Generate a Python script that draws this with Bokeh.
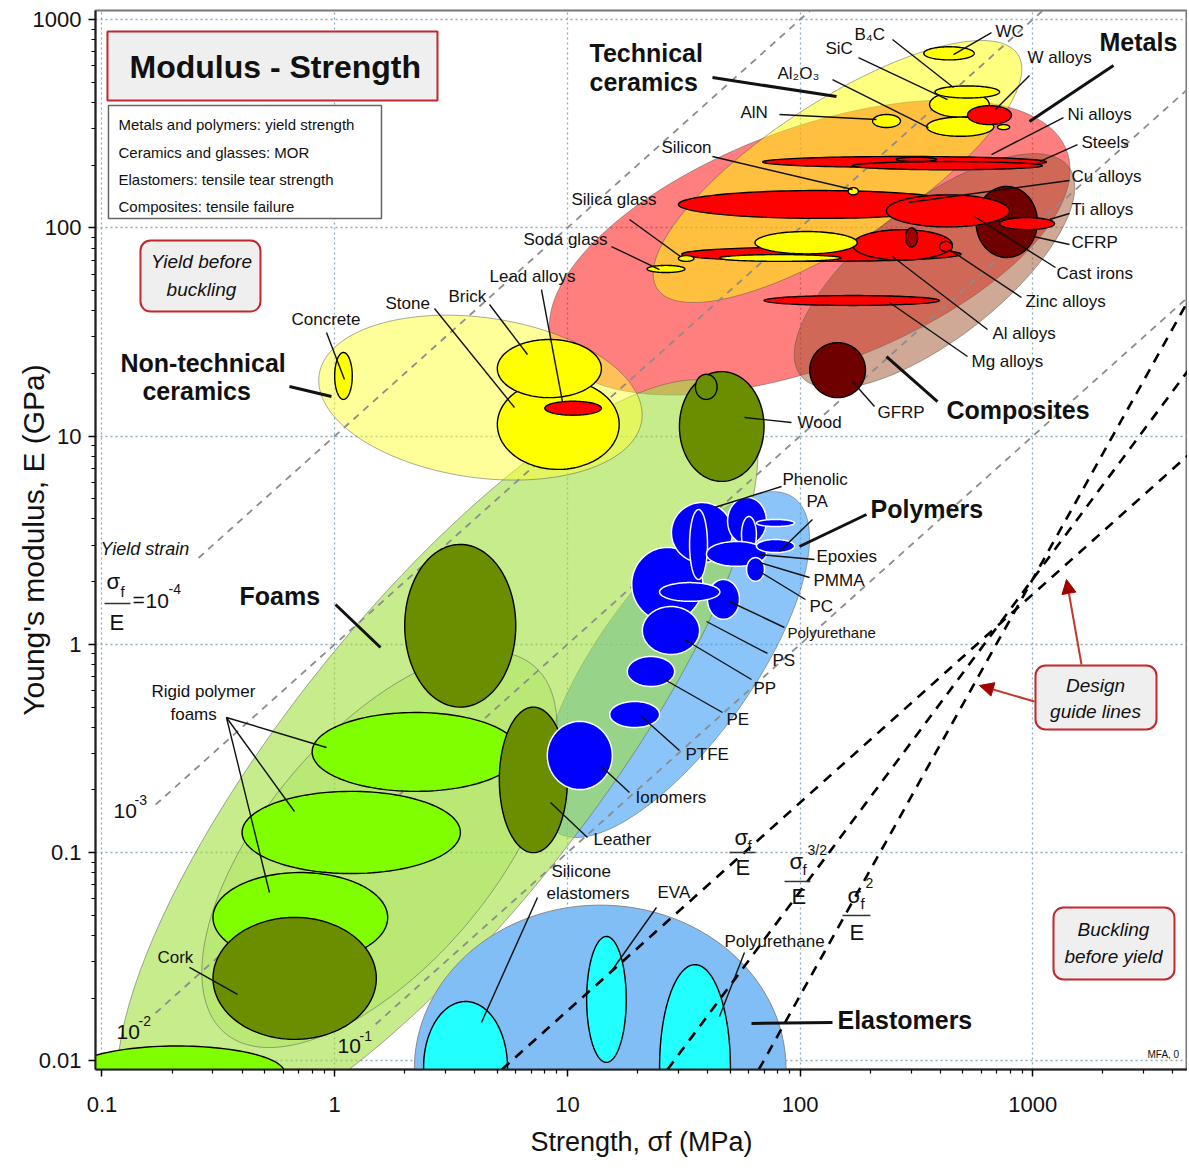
import numpy as np
from bokeh.plotting import figure
from bokeh.models import Range1d, FixedTicker, CustomJSTickFormatter, Arrow, NormalHead
from bokeh.embed import file_html
from bokeh.resources import INLINE
from bokeh.core.properties import value

FONT = "Liberation Sans"

# ---------------- axes ----------------
X_START, X_END = 0.0938, 4622.0      # strength, MPa
Y_START, Y_END = 0.0091, 1105.0      # modulus, GPa
X_MAJOR = [0.1, 1, 10, 100, 1000]
Y_MAJOR = [0.01, 0.1, 1, 10, 100, 1000]

# ---------------- envelopes ----------------
# (name, strength centre MPa, modulus centre GPa, semi-major (decades), semi-minor (decades), tilt deg)
ENVELOPES = [
    ("Metals", 110, 80.4, 1.18, 0.51, 20.7),
    ("Technical ceramics", 144.8, 186.3, 0.924, 0.301, 33),
    ("Composites", 378, 62.0, 0.73, 0.292, 38),
    ("Polymers", 28.9, 0.80, 0.881, 0.335, 54.5),
    ("Foams", 2.766, 0.2622, 2.054, 0.653, 51.5),
    ("Rigid polymer foams", 1.557, 0.1036, 1.031, 0.494, 50),
    ("Non-technical ceramics", 4.23, 15.3, 0.70, 0.344, -8),
]
ENV_FILL = ["#ff0000", "#ffff00", "#a0522d", "#3d9cf5", "#a0e040", "#9ce040", "#ffff33"]
ENV_ALPHA = [0.5, 0.5, 0.5, 0.6, 0.6, 0.3, 0.5]
ELASTOMER_ENV = (2.2, 87, 0.0015, 0.056)

# ---------------- material bubbles: (name, s_min, s_max, E_min, E_max) ----------------
COMPOSITES = [("CFRP", 570, 1047, 72, 158), ("GFRP", 110, 191, 15.3, 28.1)]
METALS = [
    ("Ni alloys", 69, 1145, 195, 220),
    ("Steels", 168, 1100, 190, 208),
    ("Ni-steel", 259, 386, 208, 218),
    ("Cu alloys", 30, 492, 111, 151),
    ("Cast irons", 235, 794, 101, 144),
    ("Ti alloys", 720, 1240, 98, 112),
    ("Al alloys", 31, 492, 69, 81),
    ("Zinc alloys", 168, 451, 70, 98),
    ("Zn die", 397, 451, 77, 86),
    ("Mg alloys", 70, 397, 42.4, 47.3),
]
METALS_DARK = [("Mo", 284, 320, 81, 100)]
TECH_CERAMICS = [
    ("WC", 340, 560, 640, 740),
    ("SiC", 360, 650, 340, 450),
    ("B4C", 380, 720, 420, 480),
    ("Al2O3", 350, 680, 275, 340),
    ("AlN", 205, 270, 303, 350),
    ("Silicon", 161, 178, 144, 156),
    ("Si3N4", 64, 176, 75, 96),
    ("Glass ceramic", 45, 150, 69, 74.4),
    ("Silica glass", 30, 35, 69, 73.6),
    ("Soda glass", 22, 32, 61, 66),
]
W_ALLOYS = [("W alloys", 524, 810, 313, 386)]
TECH_SMALL = [("Boron", 705, 795, 296, 313)]
NONTECH = [("Concrete", 1.0, 1.19, 15, 25.2), ("Stone", 5, 16.7, 6.92, 18.7), ("Brick", 5, 14, 15.3, 29.1)]
LEAD = [("Lead alloys", 8, 14, 12.6, 14.7)]
RIGID_FOAMS = [
    ("Rigid foam A", 0.8, 6.2, 0.197, 0.471),
    ("Rigid foam B", 0.40, 3.47, 0.0794, 0.197),
    ("Rigid foam C", 0.30, 1.69, 0.0297, 0.0803),
    ("Rigid foam D", 0.0725, 0.61, 0.0065, 0.0118),
]
NATURAL = [
    ("Cork", 0.30, 1.51, 0.0127, 0.0489),
    ("Leather", 5.1, 10, 0.1, 0.5),
    ("Flexible foam", 2.0, 6.0, 0.5, 3.02),
    ("Wood", 30.3, 70, 6.06, 20.4),
    ("Wood (T)", 35.5, 44, 15, 19.8),
]
POLYMERS = [
    ("PS", 18.9, 38.2, 1.29, 2.92),
    ("Ionomers", 8.2, 15.6, 0.201, 0.427),
    ("PTFE", 15.2, 24.9, 0.399, 0.532),
    ("PE", 18.1, 28.9, 0.628, 0.875),
    ("PP", 21, 37, 0.895, 1.52),
    ("Phenolic", 28, 51.2, 2.47, 4.80),
    ("PA", 48.8, 71.7, 3.02, 5.08),
    ("Polyurethane", 40, 54.9, 1.32, 2.05),
    ("ABS", 24.9, 45.2, 1.61, 1.98),
    ("PET", 33.5, 40, 2.05, 4.44),
    ("PEEK", 56, 64.9, 2.76, 4.11),
    ("Epoxies", 39.6, 71.7, 2.37, 3.12),
    ("PMMA", 64.9, 94.6, 2.76, 3.19),
    ("PC", 58.9, 70.3, 2.01, 2.61),
    ("Polyester", 64.9, 94.6, 3.68, 3.98),
]
ELASTOMERS = [
    ("Silicone elastomers", 2.41, 5.53, 0.0045, 0.0193),
    ("EVA", 12.1, 17.9, 0.00984, 0.0396),
    ("Polyurethane", 24.9, 50.2, 0.003, 0.029),
]

# yield strain guide lines sigma/E (sigma MPa, E GPa)
STRAIN = [1e-4, 1e-3, 1e-2, 1e-1]
STRAIN_FROM = [0.26, 0.17, 0.17, 1.5]
# design guide lines  E = C * sigma^n
GUIDE_N = [1.0, 1.5, 2.0]
GUIDE_C = [1.74e-3, 6.51e-5, 2.06e-6]

# ---------------- geometry ----------------
W, H = 1187, 1166
ML, MT, MB = 95, 10, 97
# reference picture calibration (pixels per decade, pixel of 0.1 MPa and 1000 GPa) for annotations
PX_DEC_X, PX_DEC_Y = 232.7, 208.3
ASPECT = PX_DEC_Y / PX_DEC_X


def sx(px):
    return 10 ** ((px - 102.5) / PX_DEC_X - 1)


def sy(py):
    return 10 ** (3 - (py - 20) / PX_DEC_Y)


def tilted(cs, ce, a, b, ang, n=160):
    t = np.linspace(0, 2 * np.pi, n)
    th = np.radians(ang)
    u, w = a * np.cos(t), b * np.sin(t)
    dx = u * np.cos(th) - w * np.sin(th)
    dy = (u * np.sin(th) + w * np.cos(th)) / ASPECT
    return list(10 ** (np.log10(cs) + dx)), list(10 ** (np.log10(ce) + dy))


def bubble(smin, smax, emin, emax, n=120):
    t = np.linspace(0, 2 * np.pi, n)
    cx = (np.log10(smin) + np.log10(smax)) / 2
    rx = (np.log10(smax) - np.log10(smin)) / 2
    cy = (np.log10(emin) + np.log10(emax)) / 2
    ry = (np.log10(emax) - np.log10(emin)) / 2
    return list(10 ** (cx + rx * np.cos(t))), list(10 ** (cy + ry * np.sin(t)))


p = figure(width=W, height=H, x_axis_type="log", y_axis_type="log",
           x_range=Range1d(X_START, X_END), y_range=Range1d(Y_START, Y_END),
           output_backend="svg", toolbar_location=None,
           min_border_left=ML, min_border_right=0, min_border_top=MT, min_border_bottom=MB,
           background_fill_color="white", border_fill_color="white")
p.outline_line_color = "#777777"
p.outline_line_width = 2

xminor = [m * 10.0 ** k for k in range(-2, 4) for m in range(2, 10) if X_START <= m * 10.0 ** k <= X_END]
yminor = [m * 10.0 ** k for k in range(-3, 4) for m in range(2, 10) if Y_START <= m * 10.0 ** k <= Y_END]
p.xaxis.ticker = FixedTicker(ticks=X_MAJOR, minor_ticks=xminor)
p.yaxis.ticker = FixedTicker(ticks=Y_MAJOR, minor_ticks=yminor)
p.xaxis.formatter = CustomJSTickFormatter(code="return String(tick);")
p.yaxis.formatter = CustomJSTickFormatter(code="return String(tick);")
for ax in (p.xaxis, p.yaxis):
    ax.axis_line_width = 2
    ax.axis_line_color = "#222222"
    ax.major_tick_line_width = 1.5
    ax.minor_tick_line_width = 1.2
    ax.major_tick_out = 7
    ax.major_tick_in = 0
    ax.minor_tick_out = 4
    ax.minor_tick_in = 0
    ax.major_label_text_font = FONT
    ax.major_label_text_font_size = "22px"
    ax.major_label_text_color = "#111111"
    ax.axis_label_text_font = FONT
    ax.axis_label_text_font_style = "normal"
    ax.axis_label_text_color = "#111111"
p.xaxis.axis_label = "Strength, σf (MPa)"
p.xaxis.axis_label_text_font_size = "27px"
p.xaxis.major_label_standoff = 20
p.xaxis.axis_label_standoff = 12
p.yaxis.axis_label = "Young's modulus, E (GPa)"
p.yaxis.axis_label_text_font_size = "30px"
p.yaxis.major_label_standoff = 7
p.yaxis.axis_label_standoff = -20
p.grid.grid_line_color = "#8eaabb"
p.grid.grid_line_dash = "2 3"
p.grid.grid_line_width = 1.3

# ---- envelopes
for (name, cs, ce, a, b, ang), fc, al in zip(ENVELOPES, ENV_FILL, ENV_ALPHA):
    xs, ys = tilted(cs, ce, a, b, ang)
    p.patch(xs, ys, fill_color=fc, fill_alpha=al, line_color="#555555", line_alpha=0.5, line_width=1)
ex, ey = bubble(*ELASTOMER_ENV)
p.patch(ex, ey, fill_color="#80bef5", line_color="#888888", line_width=1)

# ---- yield-strain guide lines (grey)
for eps, s0 in zip(STRAIN, STRAIN_FROM):
    s = [s0, 1e4]
    p.line(s, [v / (1000 * eps) for v in s], line_color="#8c8c8c", line_width=1.8, line_dash="7 6")


def draw(group, fill, line="black", lw=1.4):
    xs, ys = [], []
    for _, a, b, c, d in group:
        bx, by = bubble(a, b, c, d)
        xs.append(bx)
        ys.append(by)
    p.patches(xs, ys, fill_color=fill, line_color=line, line_width=lw)


draw(COMPOSITES, "#6e0000")
draw(METALS, "#ff0000")
draw(METALS_DARK, "#a00000")
draw(TECH_CERAMICS, "#ffff00")
draw(W_ALLOYS, "#ff0000")
draw(TECH_SMALL, "#ffff00")
draw(NONTECH, "#ffff00")
draw(LEAD, "#ff0000")
draw(RIGID_FOAMS, "#80ff00")
draw(NATURAL, "#6b8e00")
draw(POLYMERS, "#0000ff", line="white", lw=1.5)
draw(ELASTOMERS, "#22ffff")

# ---- design guide lines (black dashed)
for n, c in zip(GUIDE_N, GUIDE_C):
    s0 = (Y_START / c) ** (1 / n)
    s = [s0, 1e4]
    p.line(s, [c * v ** n for v in s], line_color="black", line_width=2.6, line_dash="10 8")

# ---------------- annotations ----------------
def quad_box(l, r, t, b, fill, line, lw=2, radius=0):
    p.quad(left=[sx(l)], right=[sx(r)], top=[sy(t)], bottom=[sy(b)], fill_color=fill,
           line_color=line, line_width=lw, border_radius=radius)


quad_box(108, 438, 32, 101, "#efefef", "#c1272d", 2)
quad_box(109, 382, 106, 219, "white", "#666666", 1.5)
quad_box(141, 261, 241, 312, "#efefef", "#c1272d", 2, 10)
quad_box(1036, 1157, 666, 730, "#efefef", "#c1272d", 2, 10)
quad_box(1054, 1175, 908, 980, "#efefef", "#c1272d", 2, 10)


def txt(items, size, style="normal", align="left", color="#111111", baseline="middle"):
    p.text(x=[sx(i[1]) for i in items], y=[sy(i[2]) for i in items], text=[i[0] for i in items],
           text_font=value(FONT), text_font_size=f"{size}px", text_font_style=style,
           text_align=align, text_baseline=baseline, text_color=color)


txt([("Modulus - Strength", 130, 67)], 32, "bold")
txt([("Metals and polymers: yield strength", 119, 125), ("Ceramics and glasses: MOR", 119, 153),
     ("Elastomers: tensile tear strength", 119, 180), ("Composites: tensile failure", 119, 207)], 15)
txt([("Yield before", 202, 262), ("buckling", 202, 290), ("Design", 1096, 686), ("guide lines", 1096, 712),
     ("Buckling", 1114, 930), ("before yield", 1114, 957)], 19, "italic", "center")
txt([("Yield strain", 101, 550)], 18, "italic")

# fractions on guide lines
txt([("σ", 107, 582), ("σ", 735, 838), ("σ", 790, 862), ("σ", 848, 896)], 22)
txt([("f", 121, 592), ("f", 748, 846), ("f", 803, 870), ("f", 861, 904)], 15)
txt([("E", 110, 623), ("E", 736, 868), ("E", 792, 897), ("E", 850, 933)], 22)
txt([("3/2", 808, 851), ("2", 866, 884)], 14)
txt([("=", 133, 600), ("10", 146, 602), ("10", 114, 812), ("10", 117, 1033), ("10", 338, 1047)], 21)
txt([("-4", 169, 590), ("-3", 135, 801), ("-2", 139, 1022), ("-1", 360, 1037)], 14)
bars = [(105, 131, 604), (730, 756, 853), (785, 811, 882), (843, 871, 916)]
p.segment(x0=[sx(b[0]) for b in bars], x1=[sx(b[1]) for b in bars], y0=[sy(b[2]) for b in bars],
          y1=[sy(b[2]) for b in bars], line_color="#333333", line_width=1.5)

# bold family labels
txt([("Metals", 1100, 42), ("Technical", 590, 53), ("ceramics", 590, 82), ("Composites", 947, 410),
     ("Non-technical", 121, 363), ("ceramics", 143, 391), ("Polymers", 871, 509), ("Foams", 240, 597),
     ("Elastomers", 838, 1021)], 25, "bold")

# material labels
txt([("WC", 996, 32), ("B₄C", 855, 35), ("SiC", 826, 49), ("Al₂O₃", 778, 74), ("AlN", 741, 113),
     ("W alloys", 1028, 58), ("Ni alloys", 1068, 115), ("Steels", 1082, 143), ("Cu alloys", 1072, 177),
     ("Ti alloys", 1072, 210), ("CFRP", 1072, 243), ("Cast irons", 1057, 274), ("Zinc alloys", 1026, 302),
     ("Al alloys", 993, 334), ("Mg alloys", 972, 362), ("GFRP", 878, 413), ("Wood", 798, 423),
     ("Silicon", 662, 148), ("Silica glass", 572, 200), ("Soda glass", 524, 240), ("Lead alloys", 490, 277),
     ("Brick", 449, 297), ("Stone", 386, 304), ("Concrete", 292, 320), ("Phenolic", 783, 480),
     ("PA", 807, 502), ("Epoxies", 817, 557), ("PMMA", 814, 581), ("PC", 810, 607), ("PS", 773, 661),
     ("PP", 754, 689), ("PE", 727, 720), ("PTFE", 686, 755), ("Ionomers", 636, 798), ("Leather", 594, 840),
     ("Cork", 158, 958), ("Rigid polymer", 152, 692), ("foams", 171, 715), ("Silicone", 552, 872),
     ("elastomers", 547, 894), ("EVA", 658, 893), ("Polyurethane", 725, 942)], 17)
txt([("Polyurethane", 788, 633)], 15)
txt([("MFA, 0", 1148, 1055)], 10)

thin = [((992, 33), (954, 55)), ((893, 40), (954, 88)), ((859, 58), (948, 100)), ((833, 80), (929, 128)),
        ((780, 115), (877, 120)), ((1030, 76), (996, 110)), ((1064, 118), (992, 155)),
        ((1078, 145), (1040, 162)), ((1070, 181), (909, 203)), ((1070, 214), (1050, 220)),
        ((1070, 245), (1034, 237)), ((1056, 268), (975, 217)), ((1022, 298), (950, 250)),
        ((988, 330), (893, 257)), ((968, 357), (890, 303)), ((875, 407), (853, 382)), ((792, 423), (745, 418)),
        ((713, 157), (853, 190)), ((630, 220), (681, 257)), ((612, 247), (660, 270)), ((542, 290), (563, 402)),
        ((490, 305), (528, 355)), ((435, 309), (515, 408)), ((327, 333), (345, 380)), ((782, 487), (715, 508)),
        ((813, 520), (780, 552)), ((815, 560), (760, 555)), ((810, 578), (760, 563)), ((806, 600), (760, 572)),
        ((785, 628), (730, 602)), ((768, 654), (707, 622)), ((752, 680), (685, 640)), ((723, 713), (665, 680)),
        ((680, 751), (642, 717)), ((630, 793), (602, 767)), ((588, 838), (551, 803)), ((227, 718), (327, 748)),
        ((227, 718), (295, 812)), ((227, 718), (270, 893)), ((190, 968), (238, 995)), ((538, 898), (482, 1023)),
        ((657, 908), (611, 973)), ((745, 953), (720, 1017))]
p.segment(x0=[sx(a[0]) for a, b in thin], y0=[sy(a[1]) for a, b in thin],
          x1=[sx(b[0]) for a, b in thin], y1=[sy(b[1]) for a, b in thin], line_color="#111111", line_width=1.4)
thick = [((1114, 66), (1030, 122)), ((713, 78), (837, 97)), ((938, 402), (887, 357)), ((290, 387), (332, 397)),
         ((867, 515), (800, 547)), ((336, 605), (381, 648)), ((833, 1023), (752, 1024))]
p.segment(x0=[sx(a[0]) for a, b in thick], y0=[sy(a[1]) for a, b in thick],
          x1=[sx(b[0]) for a, b in thick], y1=[sy(b[1]) for a, b in thick], line_color="#111111", line_width=3)

for (a, b) in [((1082, 665), (1067, 580)), ((1035, 702), (980, 686))]:
    p.add_layout(Arrow(end=NormalHead(size=14, fill_color="#a00000", line_color="#a00000"),
                       x_start=sx(a[0]), y_start=sy(a[1]), x_end=sx(b[0]), y_end=sy(b[1]),
                       line_color="#c0392b", line_width=2))

open("out.html", "w").write(file_html(p, INLINE))
